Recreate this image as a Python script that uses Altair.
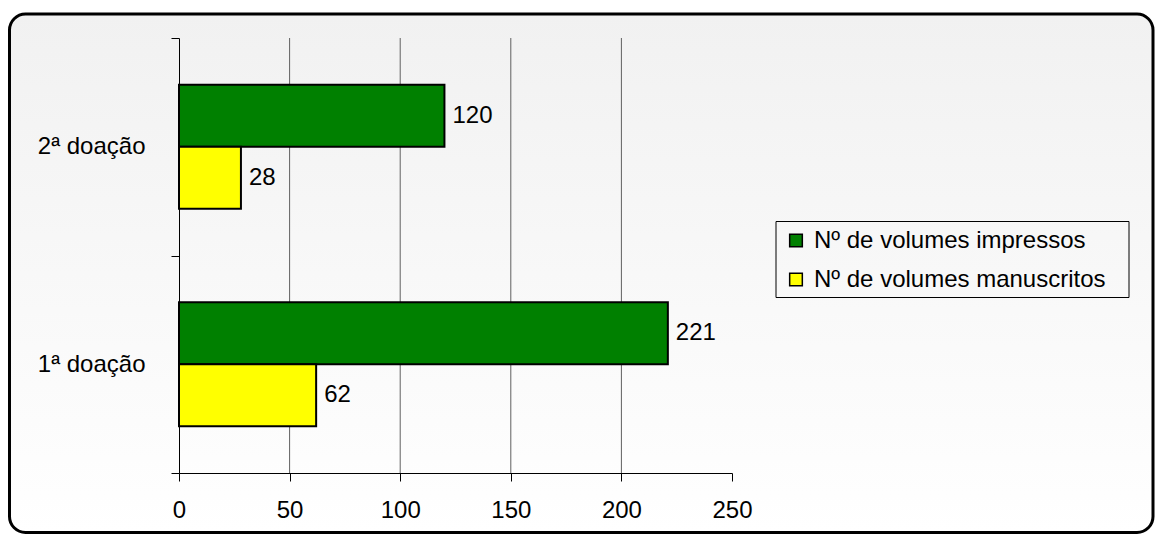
import altair as alt
import pandas as pd

categories = ["2ª doação", "1ª doação"]
series = ["Nº de volumes impressos", "Nº de volumes manuscritos"]
impressos = [120, 221]
manuscritos = [28, 62]
colors = ["#008000", "#ffff00"]
x_ticks = [0, 50, 100, 150, 200, 250]

rows = []
for c, a, b in zip(categories, impressos, manuscritos):
    rows.append({"doacao": c, "serie": series[0], "valor": a})
    rows.append({"doacao": c, "serie": series[1], "valor": b})
df = pd.DataFrame(rows)
grid_df = pd.DataFrame({"valor": x_ticks[1:-1]})

FONT = "Liberation Sans"
FS = 24
W, H = 553, 435
PL, PT = 179, 38

x_scale = alt.Scale(domain=[0, 250], nice=False)

y_enc = alt.Y(
    "doacao:N", sort=categories,
    scale=alt.Scale(paddingInner=0, paddingOuter=0),
    axis=alt.Axis(title=None, tickBand="extent", grid=False, domainColor="black",
                  domainWidth=1, tickColor="black", tickSize=8, tickWidth=1, zindex=1,
                  labelFontSize=FS, labelFont=FONT, labelColor="black", labelPadding=26),
)
yoff = alt.YOffset("serie:N", sort=series,
                   scale=alt.Scale(paddingInner=0, paddingOuter=0.754))
x_enc = alt.X(
    "valor:Q", scale=x_scale,
    axis=alt.Axis(values=x_ticks, title=None, grid=False, zindex=1, labelFlush=False,
                  domainColor="black", domainWidth=1,
                  tickColor="black", tickSize=8, tickWidth=1,
                  labelFontSize=FS, labelFont=FONT, labelColor="black", labelPadding=17),
)
color_enc = alt.Color(
    "serie:N", sort=series,
    scale=alt.Scale(domain=series, range=colors),
    legend=alt.Legend(orient="none", legendX=598, legendY=183.5, title=None,
                      labelFontSize=FS, labelFont=FONT, labelColor="black", labelLimit=500,
                      symbolType="square", symbolSize=160, symbolStrokeColor="black",
                      symbolStrokeWidth=1.5, rowPadding=15, labelOffset=6, padding=7),
)

one = alt.Data(values=[{"k": 1}])

frame = alt.Chart(one).mark_rect(
    fill=alt.Gradient(gradient="linear",
                      stops=[alt.GradientStop(color="#f1f1f1", offset=0),
                             alt.GradientStop(color="#ffffff", offset=1)],
                      x1=0, x2=0, y1=0, y2=1),
    stroke="black", strokeWidth=3, cornerRadius=16,
).encode(x=alt.value(9.5 - PL), x2=alt.value(1153 - PL),
         y=alt.value(14 - PT), y2=alt.value(532.5 - PT))

legend_box = alt.Chart(one).mark_rect(
    fill="transparent", stroke="black", strokeWidth=1,
).encode(x=alt.value(776 - PL), x2=alt.value(1129 - PL),
         y=alt.value(221.5 - PT), y2=alt.value(297.5 - PT))

grid = alt.Chart(grid_df).mark_rule(color="#606060", strokeWidth=1).encode(
    x=alt.X("valor:Q", scale=x_scale), y=alt.value(0), y2=alt.value(H))

bars = alt.Chart(df).mark_bar(stroke="black", strokeWidth=2).encode(
    y=y_enc, yOffset=yoff, x=x_enc, color=color_enc)

labels = alt.Chart(df).mark_text(
    align="left", baseline="middle", dx=8, fontSize=FS, font=FONT, color="black"
).encode(y=alt.Y("doacao:N", sort=categories), yOffset=alt.YOffset("serie:N", sort=series),
         x=alt.X("valor:Q"), text=alt.Text("valor:Q"))

chart = alt.layer(frame, legend_box, grid, bars, labels).properties(
    width=W, height=H,
    autosize=alt.AutoSizeParams(type="none"),
    padding={"left": PL, "top": PT, "right": 1155 - PL - W, "bottom": 534 - PT - H},
    background="white",
).configure_view(stroke="transparent").configure(font=FONT)

chart.save("out.html", embed_options={"renderer": "svg", "actions": False})
